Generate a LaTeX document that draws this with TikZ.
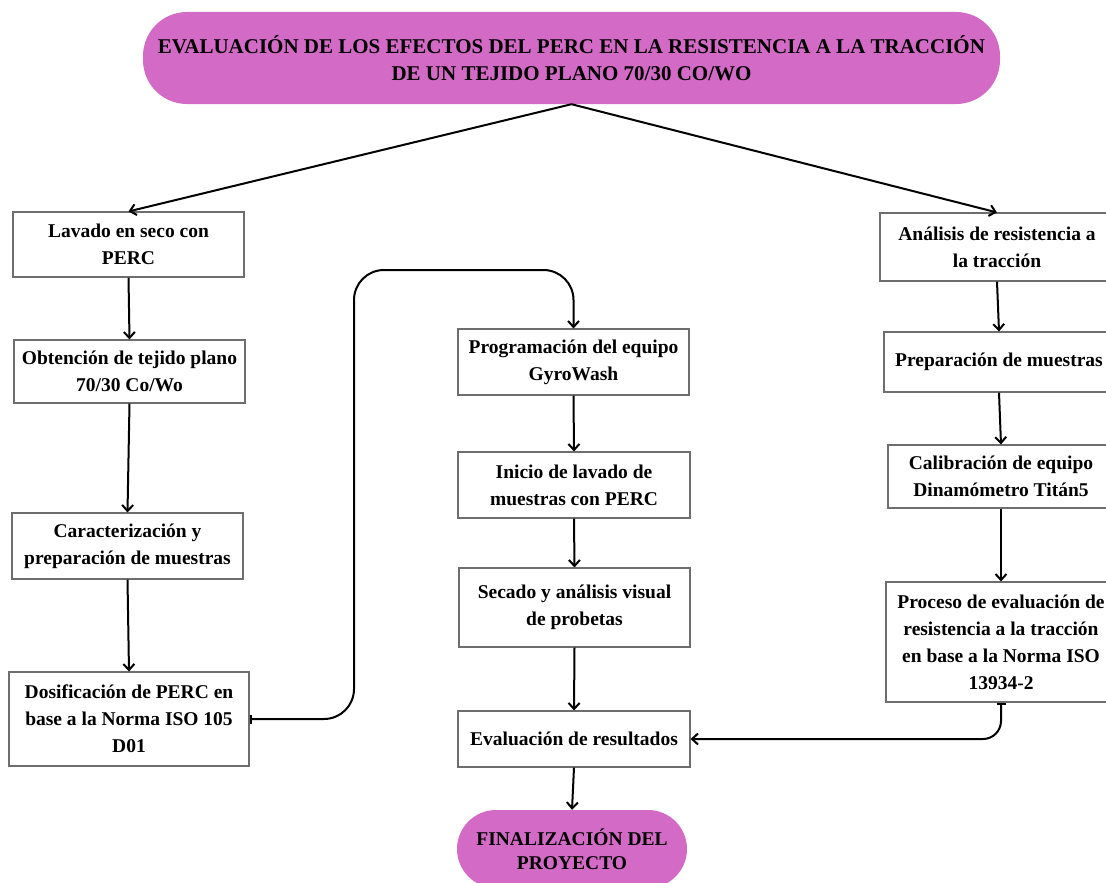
\documentclass[tikz,border=0pt]{standalone}
\usepackage{fontspec}
\setmainfont{Liberation Serif}
\usetikzlibrary{arrows.meta}
\definecolor{pinkfill}{RGB}{211,106,198}
\definecolor{boxline}{RGB}{110,110,110}
\tikzset{
  stepbox/.style={draw=boxline, line width=1.1pt, align=center, inner sep=0pt,
    font=\bfseries\fontsize{19.5}{27}\selectfont},
  pill/.style={fill=pinkfill, draw=none, rounded corners=44pt, align=center, inner sep=0pt,
    font=\bfseries\fontsize{19.5}{24}\selectfont},
  conn/.style={line width=2pt, -{Straight Barb[length=6pt,width=11pt,line width=2pt]}},
  tailconn/.style={line width=2pt, {Bar[width=9pt,line width=2pt]}-{Straight Barb[length=6pt,width=11pt,line width=2pt]}}
}
\begin{document}
\begin{tikzpicture}[x=1pt,y=-1pt]
\useasboundingbox (0,0) rectangle (1106,883);
% title
\node[pill, minimum width=857pt, minimum height=92pt, font=\bfseries\fontsize{21}{27}\selectfont] (title) at (571.5,58)
  {EVALUACIÓN DE LOS EFECTOS DEL PERC EN LA RESISTENCIA A LA TRACCIÓN\\DE UN TEJIDO PLANO 70/30 CO/WO};
% left column
\node[stepbox, minimum width=231pt, minimum height=65pt] (lav) at (128.5,244.5) {Lavado en seco con\\PERC};
\node[stepbox, minimum width=231pt, minimum height=63pt] (obt) at (129.5,371.5) {Obtención de tejido plano\\70/30 Co/Wo};
\node[stepbox, minimum width=231pt, minimum height=66pt] (car) at (127.5,546) {Caracterización y\\preparación de muestras};
\node[stepbox, minimum width=240pt, minimum height=94pt] (dos) at (129,719) {Dosificación de PERC en\\base a la Norma ISO 105\\D01};
% middle column
\node[stepbox, minimum width=231pt, minimum height=66pt] (prog) at (573.5,362) {Programación del equipo\\GyroWash};
\node[stepbox, minimum width=232pt, minimum height=66pt] (ini) at (574,485) {Inicio de lavado de\\muestras con PERC};
\node[stepbox, minimum width=231pt, minimum height=79pt] (sec) at (574.5,607.5) {Secado y análisis visual\\de probetas};
\node[stepbox, minimum width=232pt, minimum height=56pt] (eva) at (574,739) {Evaluación de resultados};
\node[pill, minimum width=230pt, minimum height=78pt, rounded corners=39pt] (fin) at (572,849) {FINALIZACIÓN DEL\\PROYECTO};
% right column
\node[stepbox, minimum width=234pt, minimum height=68pt] (ana) at (997,247) {Análisis de resistencia a\\la tracción};
\node[stepbox, minimum width=230pt, minimum height=60pt] (pre) at (999,362) {Preparación de muestras};
\node[stepbox, minimum width=226pt, minimum height=63pt] (cal) at (1001,476.5) {Calibración de equipo\\Dinamómetro Titán5};
\node[stepbox, minimum width=230pt, minimum height=120pt] (pro) at (1001,642) {Proceso de evaluación de\\resistencia a la tracción\\en base a la Norma ISO\\13934-2};
% connectors
\draw[conn] (title.south) -- (lav.north);
\draw[conn] (title.south) -- (ana.north);
\draw[conn] (lav.south) -- (obt.north);
\draw[conn] (obt.south) -- (car.north);
\draw[conn] (car.south) -- (dos.north);
\coordinate (loop) at (354,270);
\draw[tailconn, rounded corners=30pt] (dos.east) -| (loop) -| (prog.north);
\draw[conn] (prog.south) -- (ini.north);
\draw[conn] (ini.south) -- (sec.north);
\draw[conn] (sec.south) -- (eva.north);
\draw[conn] (eva.south) -- (fin.north);
\draw[conn] (ana.south) -- (pre.north);
\draw[conn] (pre.south) -- (cal.north);
\draw[conn] (cal.south) -- (pro.north);
\draw[tailconn, rounded corners=18pt] (pro.south) |- (eva.east);
\end{tikzpicture}
\end{document}
